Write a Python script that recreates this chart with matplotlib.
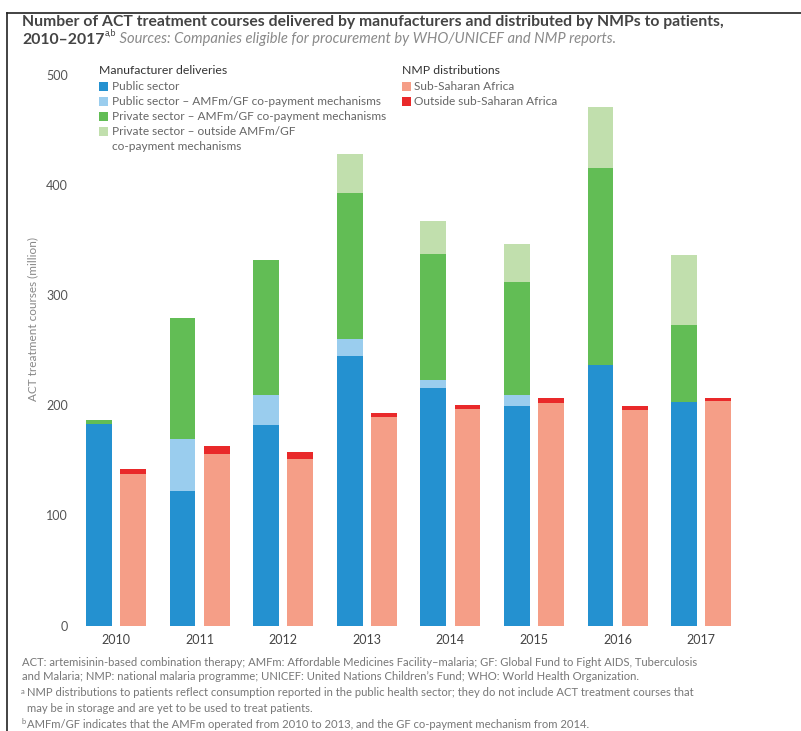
import numpy as np
import matplotlib
matplotlib.use("Agg")
import matplotlib.pyplot as plt
from matplotlib.patches import Rectangle
from matplotlib.lines import Line2D

plt.rcParams["font.family"] = ["Lato", "DejaVu Sans"]

# 数据 (百万疗程)
years = ["2010", "2011", "2012", "2013", "2014", "2015", "2016", "2017"]
public = [183, 122, 182, 245, 216, 199, 237, 203]
public_amfm = [0, 47, 27, 15, 7, 10, 0, 0]
private_amfm = [4, 110, 123, 133, 114, 103, 178, 70]
private_other = [0, 0, 0, 35, 30, 34, 56, 63]
nmp_ssa = [138, 156, 151, 189, 197, 202, 196, 204]
nmp_outside = [4, 7, 7, 4, 3, 5, 3, 3]

c_public = "#2491d0"
c_public_amfm = "#9acdee"
c_private_amfm = "#62bd55"
c_private_other = "#c1dfad"
c_ssa = "#f59e87"
c_outside = "#e9292a"

W, H = 801, 731
fig = plt.figure(figsize=(W / 100, H / 100), dpi=100)

def fx(px):
    return px / W

def fy(py):
    return 1 - py / H

# 坐标轴位置 (像素换算)
ax_l, ax_r, ax_t, ax_b = 75, 780, 74.7, 625.7
ax = fig.add_axes([fx(ax_l), fy(ax_b), fx(ax_r - ax_l), (ax_b - ax_t) / H])
px_per_year = 83.6
x0 = 116
ax.set_xlim((ax_l - x0) / px_per_year, (ax_r - x0) / px_per_year)
ax.set_ylim(0, 500)

x = np.arange(len(years))
bw = 0.31
off = 0.205

b = np.zeros(len(years))
for vals, col in [(public, c_public), (public_amfm, c_public_amfm),
                  (private_amfm, c_private_amfm), (private_other, c_private_other)]:
    ax.bar(x - off, vals, bw, bottom=b, color=col, linewidth=0)
    b = b + np.array(vals)

b = np.zeros(len(years))
for vals, col in [(nmp_ssa, c_ssa), (nmp_outside, c_outside)]:
    ax.bar(x + off, vals, bw, bottom=b, color=col, linewidth=0)
    b = b + np.array(vals)

for s in ax.spines.values():
    s.set_visible(False)
ax.set_yticks([0, 100, 200, 300, 400, 500])
ax.set_xticks(x)
ax.set_xticklabels(years)
ax.tick_params(axis="y", length=0, pad=5, labelsize=9, labelcolor="#555555")
ax.tick_params(axis="x", length=0, pad=6, labelsize=9, labelcolor="#444444")

fig.text(fx(33), fy(319), "ACT treatment courses (million)", rotation=90,
         ha="center", va="center", fontsize=8.5, color="#888888")

# 图例 (手动)
def legend_block(x_sq, x_txt, header, items):
    fig.text(fx(x_sq), fy(70), header, fontsize=8.8, color="#333333", va="center")
    y = 86.5
    for lab, col in items:
        fig.patches.append(Rectangle((fx(x_sq), fy(y + 4.5)), fx(9), 9 / H,
                                     transform=fig.transFigure, color=col, lw=0))
        lines = lab.split("\n")
        for i, ln in enumerate(lines):
            fig.text(fx(x_txt), fy(y + 15 * i), ln, fontsize=8.6, color="#666666", va="center")
        y += 15 * len(lines)

legend_block(99, 112, "Manufacturer deliveries", [
    ("Public sector", c_public),
    ("Public sector \u2013 AMFm/GF co-payment mechanisms", c_public_amfm),
    ("Private sector \u2013 AMFm/GF co-payment mechanisms", c_private_amfm),
    ("Private sector \u2013 outside AMFm/GF\nco-payment mechanisms", c_private_other),
])
legend_block(402, 414, "NMP distributions", [
    ("Sub-Saharan Africa", c_ssa),
    ("Outside sub-Saharan Africa", c_outside),
])

# 标题
fig.text(fx(22), fy(22), "Number of ACT treatment courses delivered by manufacturers and distributed by NMPs to patients,",
         fontsize=11.3, fontweight="bold", color="#444444", va="center")
t1 = fig.text(fx(22), fy(39.5), "2010\u20132017", fontsize=11.3, fontweight="bold",
              color="#444444", va="center")
t2 = ax.annotate("a,b", xy=(1, 0.6), xycoords=t1, fontsize=6.5, color="#444444",
                 va="bottom", ha="left")
ax.annotate(" Sources: Companies eligible for procurement by WHO/UNICEF and NMP reports.",
            xy=(1, 0), xycoords=(t2, t1), fontsize=10.6, style="italic",
            color="#8a8a8a", va="bottom", ha="left")

# 注释
foot_c = "#777777"
fig.text(fx(22), fy(662), "ACT: artemisinin-based combination therapy; AMFm: Affordable Medicines Facility\u2013malaria; GF: Global Fund to Fight AIDS, Tuberculosis",
         fontsize=8.15, color=foot_c, va="center")
fig.text(fx(22), fy(677), "and Malaria; NMP: national malaria programme; UNICEF: United Nations Children\u2019s Fund; WHO: World Health Organization.",
         fontsize=8.15, color=foot_c, va="center")
fig.text(fx(21), fy(691), "a", fontsize=5.5, color=foot_c, va="center")
fig.text(fx(27), fy(693), "NMP distributions to patients reflect consumption reported in the public health sector; they do not include ACT treatment courses that",
         fontsize=8.15, color=foot_c, va="center")
fig.text(fx(27), fy(708), "may be in storage and are yet to be used to treat patients.",
         fontsize=8.15, color=foot_c, va="center")
fig.text(fx(21), fy(722), "b", fontsize=5.5, color=foot_c, va="center")
fig.text(fx(27), fy(724), "AMFm/GF indicates that the AMFm operated from 2010 to 2013, and the GF co-payment mechanism from 2014.",
         fontsize=8.15, color=foot_c, va="center")

# 边框线
fig.lines.append(Line2D([fx(7), 1], [fy(12.5), fy(12.5)], transform=fig.transFigure,
                        color="#222222", lw=1.2))
fig.lines.append(Line2D([fx(7), fx(7)], [fy(12.5), 0], transform=fig.transFigure,
                        color="#222222", lw=1.2))

fig.savefig("out.png", dpi=100)
